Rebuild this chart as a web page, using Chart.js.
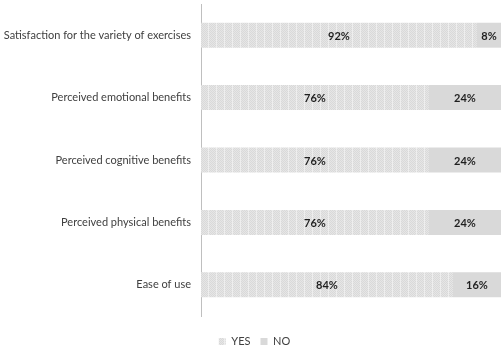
<!DOCTYPE html>
<html><head><meta charset="utf-8">
<script src="https://cdn.jsdelivr.net/npm/chart.js@4/dist/chart.umd.min.js"></script>
<style>html,body{margin:0;padding:0;background:#fff}#wrap{width:504px;height:349px}</style>
</head><body><div id="wrap"><canvas id="c" width="504" height="349"></canvas></div>
<script>
const categories = ["Satisfaction for the variety of exercises","Perceived emotional benefits","Perceived cognitive benefits","Perceived physical benefits","Ease of use"];
const yesValues = [92, 76, 76, 76, 84];
const noValues = [8, 24, 24, 24, 16];
const seriesNames = ["YES", "NO"];

function makePattern(){
  const p = document.createElement('canvas'); p.width = 8; p.height = 4;
  const g = p.getContext('2d');
  g.fillStyle = '#e6e6e6'; g.fillRect(0,0,8,4);
  g.fillStyle = '#d9d9d9';
  for (let y=0;y<4;y++) for (let x=0;x<8;x++) if ((x+y)%2===0) g.fillRect(x,y,1,1);
  g.fillStyle = '#eeeeee'; g.fillRect(0,0,1,4);
  return g.createPattern(p,'repeat');
}
const yesFill = makePattern();

const labelPlugin = {
  id:'segLabels',
  afterLayout(chart){
    const lg = chart.legend;
    if (lg) { lg.top += 10; lg.bottom += 10; lg.left += 4; lg.right += 4; }
  },
  afterDatasetsDraw(chart){
    const ctx = chart.ctx;
    ctx.save();
    ctx.font = 'bold 11px Lato';
    ctx.fillStyle = '#1f1f1f';
    ctx.textAlign = 'center'; ctx.textBaseline = 'middle';
    chart.data.datasets.forEach((ds,di)=>{
      chart.getDatasetMeta(di).data.forEach((bar,i)=>{
        const x = (bar.x + bar.base)/2;
        ctx.fillText(ds.data[i] + '%', x, bar.y + 1);
      });
    });
    ctx.restore();
  }
};

new Chart(document.getElementById('c'), {
  type:'bar',
  data:{
    labels: categories,
    datasets:[
      {label: seriesNames[0], data: yesValues, backgroundColor: yesFill, barPercentage:0.4, categoryPercentage:1},
      {label: seriesNames[1], data: noValues, backgroundColor: '#d9d9d9', barPercentage:0.4, categoryPercentage:1}
    ]
  },
  options:{
    indexAxis:'y', responsive:false, animation:false,
    layout:{padding:{top:4, right:3, bottom:2, left:0}},
    scales:{
      x:{stacked:true, min:0, max:100, display:false},
      y:{stacked:true,
        grid:{display:false, drawTicks:false},
        border:{display:true, color:'#bfbfbf', width:1},
        ticks:{color:'#404040', font:{family:'Lato', size:11}, padding:10},
        afterFit(s){ s.width = 201; s.paddingTop = 0; s.paddingBottom = 0; }
      }
    },
    plugins:{
      legend:{position:'bottom', labels:{boxWidth:7, boxHeight:7, color:'#404040', font:{family:'Lato', size:11}, padding:10}},
      tooltip:{enabled:false}
    }
  },
  plugins:[labelPlugin]
});
</script></body></html>
